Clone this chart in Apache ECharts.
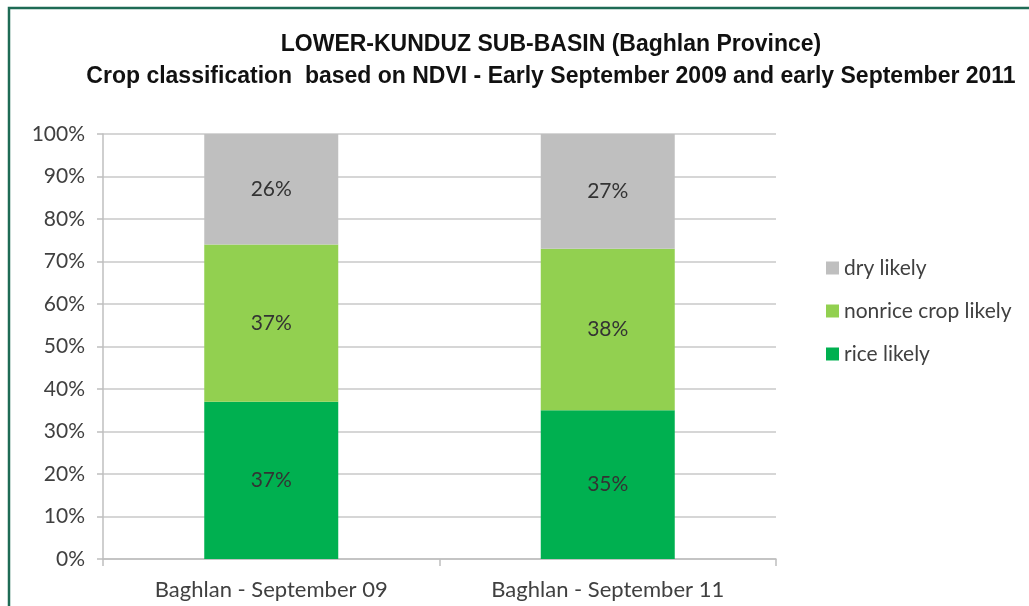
<!DOCTYPE html>
<html>
<head>
<meta charset="utf-8">
<script src="https://cdn.jsdelivr.net/npm/echarts@6/dist/echarts.min.js"></script>
<style>
  html, body { margin: 0; padding: 0; background: #fff; }
  #box { width: 1029px; height: 606px; }
</style>
</head>
<body>
<div id="box"></div>
<script>
  // data
  const categories = ['Baghlan - September 09', 'Baghlan - September 11'];
  const riceLikely = [37, 35];
  const nonriceLikely = [37, 38];
  const dryLikely = [26, 27];
  const yTicks = [0, 10, 20, 30, 40, 50, 60, 70, 80, 90, 100];

  const font = 'Lato, "Open Sans", sans-serif';
  const myChart = echarts.init(document.getElementById('box'));

  function barSeries(name, data, color) {
    return {
      name: name,
      type: 'bar',
      stack: 'total',
      barWidth: 134,
      data: data,
      itemStyle: { color: color },
      label: {
        show: true,
        position: 'inside',
        formatter: '{c}%',
        color: '#333',
        fontSize: 21,
        fontFamily: font
      }
    };
  }

  const option = {
    animation: false,
    backgroundColor: '#fff',
    title: {
      text: 'LOWER-KUNDUZ SUB-BASIN (Baghlan Province)\nCrop classification  based on NDVI - Early September 2009 and early September 2011',
      left: 546,
      textAlign: 'center',
      top: 24,
      textStyle: {
        fontFamily: '"Liberation Sans Narrow", sans-serif',
        fontWeight: 'bold',
        fontSize: 23,
        lineHeight: 32,
        color: '#111'
      }
    },
    graphic: [{
      type: 'rect',
      shape: { x: 9, y: 8, width: 1100, height: 700 },
      style: { fill: 'none', stroke: '#1e6b55', lineWidth: 2.5 },
      silent: true
    }],
    legend: {
      orient: 'vertical',
      left: 826,
      top: 257,
      padding: 0,
      itemWidth: 13,
      itemHeight: 13,
      itemGap: 21,
      icon: 'rect',
      data: ['dry likely', 'nonrice crop likely', 'rice likely'],
      textStyle: { fontFamily: font, fontSize: 21, lineHeight: 22, color: '#404040' }
    },
    grid: { left: 103, right: 253, top: 134, bottom: 47, containLabel: false },
    xAxis: {
      type: 'category',
      data: categories,
      axisLine: { lineStyle: { color: '#bfbfbf', width: 1.5 } },
      axisTick: { show: true, length: 7, lineStyle: { color: '#bfbfbf', width: 1.5 } },
      axisLabel: { color: '#404040', fontSize: 22, fontFamily: font, margin: 20 }
    },
    yAxis: {
      type: 'value',
      min: 0,
      max: 100,
      interval: 10,
      axisLine: { show: true, lineStyle: { color: '#bfbfbf', width: 1.5 } },
      axisTick: { show: true, length: 6, lineStyle: { color: '#bfbfbf', width: 1.5 } },
      splitLine: { lineStyle: { color: '#c8c8c8', width: 1.5 } },
      axisLabel: {
        color: '#404040', fontSize: 21, fontFamily: font, margin: 18,
        customValues: yTicks,
        formatter: '{value}%'
      }
    },
    series: [
      barSeries('rice likely', riceLikely, '#00b050'),
      barSeries('nonrice crop likely', nonriceLikely, '#92d050'),
      barSeries('dry likely', dryLikely, '#bfbfbf')
    ]
  };
  myChart.setOption(option);
</script>
</body>
</html>
